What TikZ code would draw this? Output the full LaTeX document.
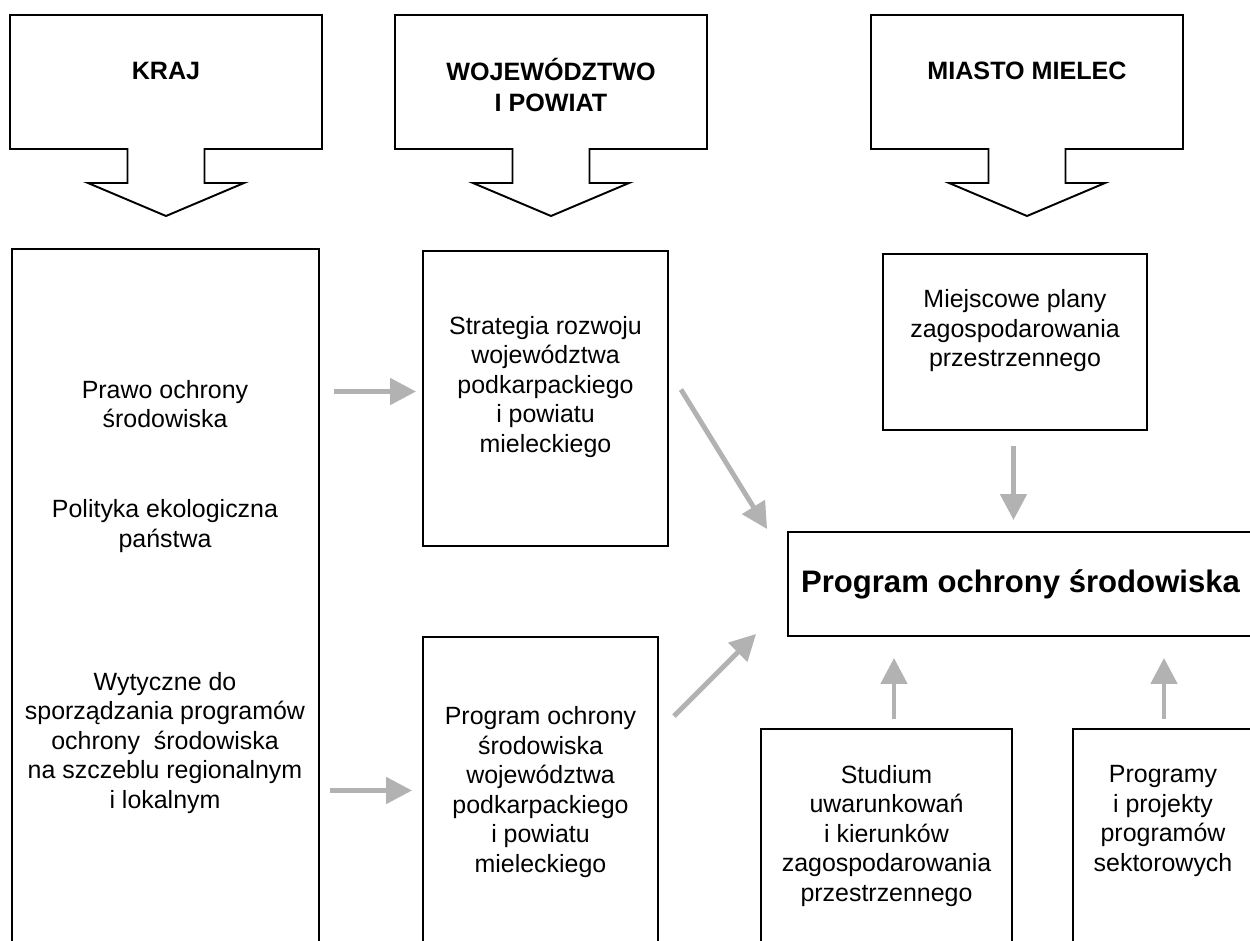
\documentclass[tikz,border=0pt]{standalone}
\usepackage{fontspec}
\setmainfont{Liberation Sans}
\usetikzlibrary{arrows.meta}
\usetikzlibrary{calc}
\usetikzlibrary{positioning}
\definecolor{arrowgray}{RGB}{178,178,178}
\tikzset{
    box/.style={draw, line width=1.1pt, inner sep=0pt},
    txt/.style={align=center, font=\fontsize{14.2}{16.8}\selectfont},
    title/.style={align=center, font=\bfseries\fontsize{14.3}{17.1}\selectfont},
    flow/.style={color=arrowgray, line width=2.8pt, -{Triangle[length=5.2mm, width=5.2mm]}},
}
\def\calloutshape(#1)% Syntax: (x of the tip), box on top, arrow below
    { \draw[box] (#1,15) ++(-156,0) -- ++(312,0) -- ++(0,134) -- ++(-117.5,0) -- ++(0,34) -- ++(39.5,0)
      -- ++(-78,33) -- ++(-78,-33) -- ++(39.5,0) -- ++(0,-34) -- ++(-117.5,0) -- cycle; }

\begin{document}
\begin{tikzpicture}[x=0.02cm, y=-0.02cm]
		\useasboundingbox (0,0) rectangle (1250,940);
		\clip (0,0) rectangle (1250,940);
		% levels
		\calloutshape(166)
		\calloutshape(551)
		\calloutshape(1027)
		\node[title] (kraj) at (166,71) {KRAJ};
		\node[title] (woj) at (551,85) {WOJEWÓDZTWO\\I POWIAT};
		\node[title] (miasto) at (1027,71) {MIASTO MIELEC};
		% boxes
		\node[box, minimum width=6.14cm, minimum height=14.22cm] (lbox) at (165.5,604.5) {};
		\node[box, minimum width=4.9cm, minimum height=5.9cm] (strat) at (545.5,398.5) {};
		\node[box, minimum width=4.7cm, minimum height=6.46cm] (prog) at (540.5,798.5) {};
		\node[box, minimum width=5.28cm, minimum height=3.52cm] (miej) at (1015,342) {};
		\node[box, minimum width=9.3cm, minimum height=2.08cm, font=\bfseries\fontsize{17.7}{21}\selectfont] (main) at (1020.5,584) {Program ochrony środowiska};
		\node[box, minimum width=5.02cm, minimum height=4.62cm] (stud) at (886.5,844.5) {};
		\node[box, minimum width=3.6cm, minimum height=4.62cm] (sect) at (1163,844.5) {};
		% texts
		\node[txt] (prawo) at (165,404) {Prawo ochrony\\środowiska};
		\node[txt] (polit) at (165,526) {Polityka ekologiczna\\państwa};
		\node[txt] (wyt) at (165,743) {Wytyczne do\\sporządzania programów\\ochrony~ środowiska\\na szczeblu regionalnym\\i lokalnym};
		\node[txt] (strattxt) at (545.5,387) {Strategia rozwoju\\województwa\\podkarpackiego\\i powiatu\\mieleckiego};
		\node[txt] (progtxt) at (540.5,792) {Program ochrony\\środowiska\\województwa\\podkarpackiego\\i powiatu\\mieleckiego};
		\node[txt] (miejtxt) at (1015,331) {Miejscowe plany\\zagospodarowania\\przestrzennego};
		\node[txt] (studtxt) at (886.5,836) {Studium\\uwarunkowań\\i kierunków\\zagospodarowania\\przestrzennego};
		\node[txt] (secttxt) at (1163,821) {Programy\\i projekty\\programów\\sektorowych};
		% arrows
		\draw[flow] ($(lbox.east |- strat.west)+(14,-7)$) -- ($(strat.west)+(-6,-7)$);
		\draw[flow] ($(lbox.east |- prog.west)+(10,-8)$) -- ($(prog.west)+(-10,-8)$);
		\draw[flow] ($(strat.east)+(12,-9)$) -- ($(main.north west)+(-20,-2)$);
		\draw[flow] ($(prog.north east)+(15,80)$) -- ($(main.south west)+(-31,-3)$);
		\draw[flow] ($(miej.south)+(-1.5,15)$) -- ($(miej.south |- main.north)+(-1.5,-11)$);
		\draw[flow] ($(stud.north)+(7.5,-9)$) -- ($(stud.north |- main.south)+(7.5,21)$);
		\draw[flow] ($(sect.north)+(1,-9)$) -- ($(sect.north |- main.south)+(1,21)$);
	\end{tikzpicture}
\end{document}
